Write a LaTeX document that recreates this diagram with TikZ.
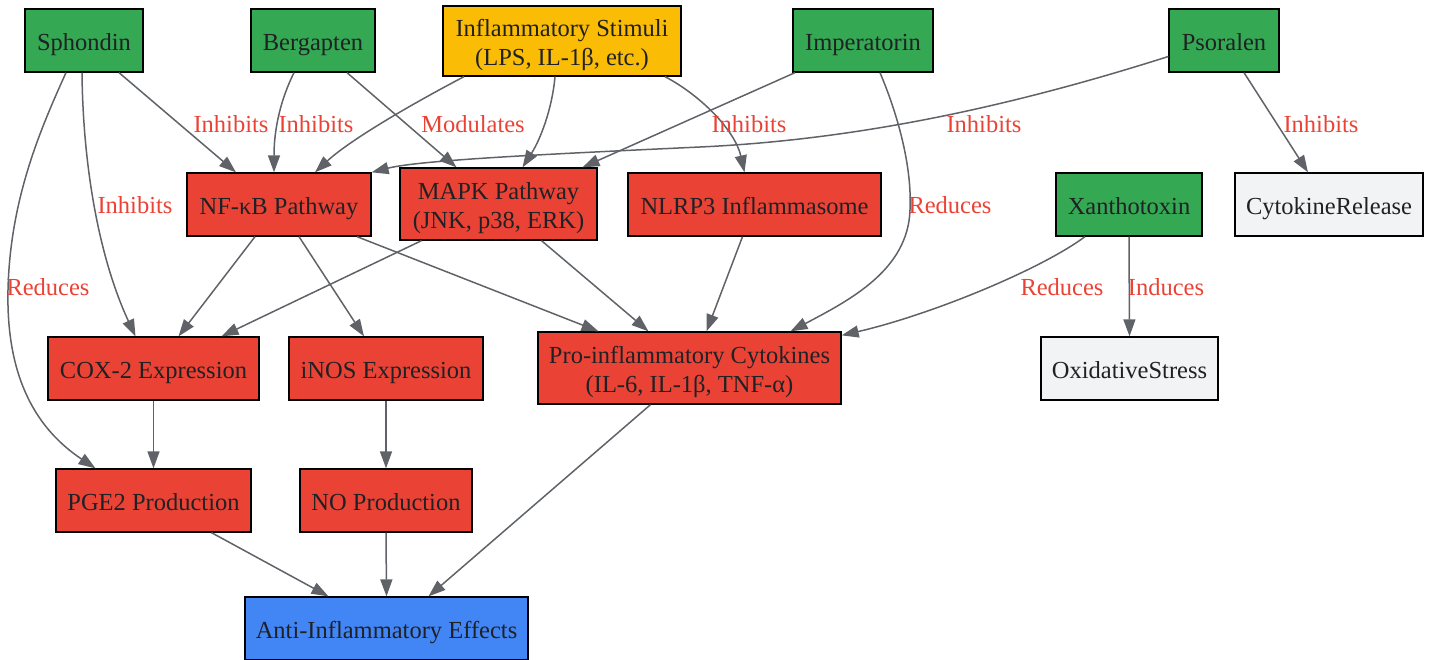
\documentclass[tikz,border=0pt]{standalone}
\usepackage{fontspec}
\setmainfont{Liberation Serif}
\usetikzlibrary{arrows.meta}
\definecolor{cgreen}{HTML}{34A853}
\definecolor{cyellow}{HTML}{FBBC05}
\definecolor{cred}{HTML}{EA4335}
\definecolor{cblue}{HTML}{4285F4}
\definecolor{cgray}{HTML}{F1F3F4}
\definecolor{cedge}{HTML}{5F6368}
\definecolor{ctext}{HTML}{202124}
\definecolor{clabel}{HTML}{EA4335}
\newcommand{\twolines}[2]{\begin{tabular}[b]{@{}c@{}}#1\\#2\end{tabular}}
\tikzset{
  box/.style={draw=black, line width=1.3pt, inner sep=0pt, minimum height=63pt,
    text=ctext, font=\fontsize{24.5}{29}\selectfont, text height=24pt, text depth=5pt},
  twoline/.style={text height=50pt, text depth=2pt},
  gbox/.style={box, fill=cgreen},
  ybox/.style={box, fill=cyellow},
  rbox/.style={box, fill=cred},
  bbox/.style={box, fill=cblue},
  wbox/.style={box, fill=cgray},
  edge/.style={draw=cedge, line width=1.5pt, -{Triangle[length=17pt,width=12pt]}},
  lbl/.style={text=clabel, font=\fontsize{24.5}{29}\selectfont, inner sep=0pt}
}
\begin{document}
\begin{tikzpicture}[x=1pt,y=-1pt]
\useasboundingbox (0,0) rectangle (1431,659);
% top row
\node[gbox, minimum width=118pt] (sph) at (84,40.5) {Sphondin};
\node[gbox, minimum width=124pt] (berg) at (313,40.5) {Bergapten};
\node[ybox, twoline, minimum width=238pt, minimum height=70pt] (stim) at (562,41) {\twolines{Inflammatory Stimuli}{(LPS, IL-1β, etc.)}};
\node[gbox, minimum width=140pt] (imp) at (863,40.5) {Imperatorin};
\node[gbox, minimum width=110pt] (psor) at (1224,40.5) {Psoralen};
% second row
\node[rbox, minimum width=184pt] (nf) at (279,204.5) {NF-κB Pathway};
\node[rbox, twoline, minimum width=197pt, minimum height=72pt] (mapk) at (498.5,204) {\twolines{MAPK Pathway}{(JNK, p38, ERK)}};
\node[rbox, minimum width=253pt] (nlrp) at (754.5,204.5) {NLRP3 Inflammasome};
\node[gbox, minimum width=146pt] (xan) at (1129,204.5) {Xanthotoxin};
\node[wbox, minimum width=188pt] (cyt) at (1329,204.5) {CytokineRelease};
% third row
\node[rbox, minimum width=211pt] (cox) at (153.5,368.5) {COX-2 Expression};
\node[rbox, minimum width=194pt] (inos) at (386,368.5) {iNOS Expression};
\node[rbox, twoline, minimum width=303pt, minimum height=72pt] (pro) at (689.5,368) {\twolines{Pro-inflammatory Cytokines}{(IL-6, IL-1β, TNF-α)}};
\node[wbox, minimum width=177pt] (ox) at (1129.5,368.5) {OxidativeStress};
% fourth row
\node[rbox, minimum width=195pt] (pge) at (153.5,500.5) {PGE2 Production};
\node[rbox, minimum width=172pt] (no) at (386,500.5) {NO Production};
% bottom
\node[bbox, minimum width=283pt] (anti) at (386.5,628.5) {Anti-Inflammatory Effects};

% edges
\draw[edge] ([xshift=35pt]sph.south) -- ([xshift=-43pt]nf.north);
\draw[edge] ([xshift=-2pt]sph.south) .. controls (83,170) and (100,260) .. ([xshift=-18pt]cox.north);
\draw[edge] ([xshift=-18pt]sph.south) .. controls (40,130) and (10,200) .. (8,290)
   .. controls (6,380) and (38,430) .. ([xshift=-58pt]pge.north);
\draw[edge] ([xshift=-19pt]berg.south) .. controls (278,105) and (274,135) .. ([xshift=-5pt]nf.north);
\draw[edge] ([xshift=34pt]berg.south) -- ([xshift=-42pt]mapk.north);
\draw[edge] ([xshift=-98pt]stim.south) .. controls (410,105) and (350,140) .. ([xshift=36pt]nf.north);
\draw[edge] ([xshift=-7pt]stim.south) .. controls (552,110) and (540,140) .. ([xshift=24pt]mapk.north);
\draw[edge] ([xshift=103pt]stim.south) .. controls (700,95) and (735,130) .. ([xshift=-10pt]nlrp.north);
\draw[edge] ([xshift=-68pt]imp.south) -- ([xshift=84pt]mapk.north);
\draw[edge] ([xshift=17pt]imp.south) .. controls (900,120) and (912,170) .. (910,210)
   .. controls (908,270) and (850,300) .. ([xshift=101pt]pro.north);
\draw[edge] ([yshift=-16pt]psor.west) .. controls (1000,110) and (850,140) .. (700,147)
   .. controls (550,154) and (420,160) .. (nf.north east);
\draw[edge] ([xshift=20pt]psor.south) -- ([xshift=-21pt]cyt.north);
\draw[edge] ([xshift=-44pt]xan.south) .. controls (1040,270) and (930,315) .. ([yshift=-4pt]pro.north east);
\draw[edge] (xan.south) -- (ox.north);
\draw[edge] ([xshift=-24pt]nf.south) -- ([xshift=25pt]cox.north);
\draw[edge] ([xshift=20pt]nf.south) -- ([xshift=-22pt]inos.north);
\draw[edge] ([xshift=78pt]nf.south) -- ([xshift=-91pt]pro.north);
\draw[edge] ([xshift=-77pt]mapk.south) -- ([xshift=68pt]cox.north);
\draw[edge] ([xshift=43pt]mapk.south) -- ([xshift=-41pt]pro.north);
\draw[edge] ([xshift=-12pt]nlrp.south) -- ([xshift=17pt]pro.north);
\draw[edge] (cox.south) -- (pge.north);
\draw[edge] (inos.south) -- (no.north);
\draw[edge] ([xshift=58pt]pge.south) -- ([xshift=-58pt]anti.north);
\draw[edge] (no.south) -- (anti.north);
\draw[edge] ([xshift=-39pt]pro.south) -- ([xshift=42pt]anti.north);

% labels
\node[lbl] (l1) at (231,124) {Inhibits};
\node[lbl] (l2) at (316,124) {Inhibits};
\node[lbl] (l3) at (473,124) {Modulates};
\node[lbl] (l4) at (749,124) {Inhibits};
\node[lbl] (l5) at (984,124) {Inhibits};
\node[lbl] (l6) at (1321,124) {Inhibits};
\node[lbl] (l7) at (135,205) {Inhibits};
\node[lbl] (l8) at (950,205) {Reduces};
\node[lbl] (l9) at (48,287) {Reduces};
\node[lbl] (l10) at (1062,287) {Reduces};
\node[lbl] (l11) at (1166,287) {Induces};
\end{tikzpicture}
\end{document}
